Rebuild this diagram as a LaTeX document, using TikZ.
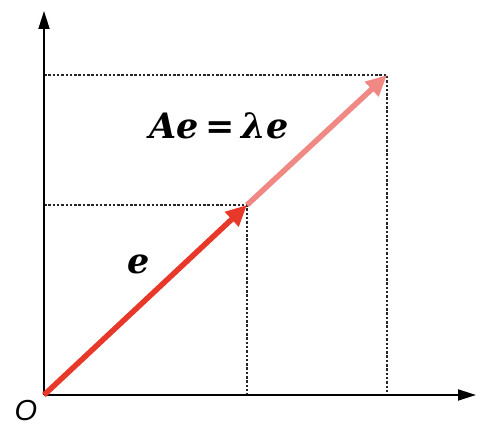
\documentclass[tikz,border=0pt]{standalone}
\usepackage{fontspec}
\usetikzlibrary{arrows.meta}
\newfontfamily\arialfont{Liberation Sans}
\newfontfamily\eqfont{DejaVu Serif}
\definecolor{vecred}{HTML}{E8382A}
\definecolor{vecpink}{HTML}{F08884}
\tikzset{
  axis/.style={line width=1.8pt,-{Triangle[length=18pt,width=11pt]}},
  guide/.style={line width=1.2pt,dash pattern=on 2.5pt off 1.8pt,black!85},
  vec/.style={line width=5.5pt,-{Triangle[length=21pt,width=19pt]}},
  eqlabel/.style={font=\eqfont\fontsize{35}{40}\selectfont\bfseries\itshape,inner sep=0pt},
}
\begin{document}
\begin{tikzpicture}[x=1pt,y=-1pt]
\useasboundingbox (0,0) rectangle (480,438);
\coordinate (O) at (44,395);
\coordinate (ytop) at (44,11);
\coordinate (xend) at (476,395);
\coordinate (P1) at (247,205);
\coordinate (P2) at (387,75);
\coordinate (P1y) at (44,205);
\coordinate (P1x) at (247,395);
\coordinate (P2y) at (44,75);
\coordinate (P2x) at (387,395);
% guides
\draw[guide] (P1y) -- (P1) -- (P1x);
\draw[guide] (P2y) -- (P2) -- (P2x);
% axes
\draw[axis] (O) -- (ytop);
\draw[axis] (O) -- (xend);
% vectors
\draw[vec,vecpink] (P1) -- (P2);
\draw[vec,vecred] (O) -- (P1);
% labels
\node[font=\arialfont\itshape\fontsize{29}{33}\selectfont,inner sep=0pt] (lblO) at (26,411) {O};
\node[eqlabel] (lble) at (139,264) {e};
\node[eqlabel] (lblA) at (219,126) {Ae\hspace{0.2em}{\upshape=}\hspace{0.2em}λe};
\end{tikzpicture}
\end{document}
